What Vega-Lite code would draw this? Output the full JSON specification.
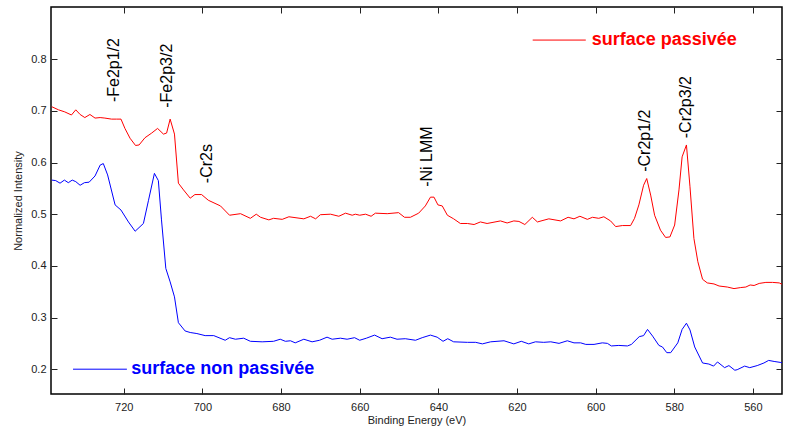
{
  "$schema": "https://vega.github.io/schema/vega-lite/v6.json",
  "width": 731,
  "height": 387,
  "autosize": {"type": "none"},
  "padding": {"left": 51, "top": 7, "right": 5, "bottom": 35},
  "background": "white",
  "config": {
    "font": "Liberation Sans",
    "view": {"stroke": "black", "strokeWidth": 1.5},
    "axis": {"grid": false, "domain": false, "labelFont": "Liberation Sans", "labelFontSize": 11, "labelColor": "#222", "tickColor": "#222", "tickWidth": 1, "titleFont": "Liberation Sans", "titleFontSize": 11, "titleFontWeight": "normal", "titleColor": "#222"}
  },
  "datasets": {
    "spectra": [
      {"s":"p","E":738.3,"I":0.708},{"s":"p","E":736.6,"I":0.702},{"s":"p","E":735.0,"I":0.698},{"s":"p","E":733.3,"I":0.692},{"s":"p","E":732.2,"I":0.702},{"s":"p","E":731.1,"I":0.693},{"s":"p","E":729.9,"I":0.687},{"s":"p","E":728.6,"I":0.693},{"s":"p","E":727.3,"I":0.686},{"s":"p","E":726.0,"I":0.687},{"s":"p","E":724.8,"I":0.686},{"s":"p","E":723.1,"I":0.684},{"s":"p","E":721.8,"I":0.684},{"s":"p","E":720.7,"I":0.684},{"s":"p","E":719.7,"I":0.666},{"s":"p","E":718.4,"I":0.647},{"s":"p","E":717.0,"I":0.633},{"s":"p","E":716.1,"I":0.634},{"s":"p","E":714.6,"I":0.648},{"s":"p","E":712.9,"I":0.657},{"s":"p","E":711.4,"I":0.666},{"s":"p","E":709.9,"I":0.655},{"s":"p","E":709.1,"I":0.657},{"s":"p","E":708.2,"I":0.684},{"s":"p","E":707.1,"I":0.655},{"s":"p","E":706.1,"I":0.560},{"s":"p","E":704.8,"I":0.547},{"s":"p","E":703.1,"I":0.531},{"s":"p","E":701.9,"I":0.538},{"s":"p","E":700.2,"I":0.538},{"s":"p","E":698.5,"I":0.527},{"s":"p","E":695.4,"I":0.516},{"s":"p","E":693.1,"I":0.498},{"s":"p","E":690.3,"I":0.501},{"s":"p","E":687.8,"I":0.492},{"s":"p","E":686.3,"I":0.500},{"s":"p","E":685.2,"I":0.494},{"s":"p","E":683.1,"I":0.489},{"s":"p","E":681.9,"I":0.492},{"s":"p","E":679.7,"I":0.490},{"s":"p","E":678.0,"I":0.495},{"s":"p","E":674.2,"I":0.491},{"s":"p","E":672.5,"I":0.496},{"s":"p","E":671.2,"I":0.491},{"s":"p","E":670.0,"I":0.499},{"s":"p","E":667.4,"I":0.500},{"s":"p","E":665.3,"I":0.496},{"s":"p","E":663.6,"I":0.502},{"s":"p","E":661.9,"I":0.498},{"s":"p","E":661.1,"I":0.500},{"s":"p","E":660.0,"I":0.498},{"s":"p","E":658.5,"I":0.500},{"s":"p","E":657.1,"I":0.496},{"s":"p","E":656.0,"I":0.502},{"s":"p","E":653.0,"I":0.501},{"s":"p","E":650.1,"I":0.503},{"s":"p","E":648.6,"I":0.494},{"s":"p","E":647.1,"I":0.494},{"s":"p","E":645.0,"I":0.502},{"s":"p","E":643.3,"I":0.516},{"s":"p","E":642.0,"I":0.533},{"s":"p","E":641.1,"I":0.533},{"s":"p","E":640.1,"I":0.518},{"s":"p","E":639.0,"I":0.516},{"s":"p","E":637.7,"I":0.498},{"s":"p","E":636.1,"I":0.491},{"s":"p","E":634.4,"I":0.482},{"s":"p","E":632.6,"I":0.482},{"s":"p","E":630.9,"I":0.480},{"s":"p","E":629.3,"I":0.485},{"s":"p","E":627.6,"I":0.482},{"s":"p","E":624.2,"I":0.487},{"s":"p","E":622.5,"I":0.483},{"s":"p","E":620.8,"I":0.487},{"s":"p","E":619.5,"I":0.486},{"s":"p","E":618.0,"I":0.480},{"s":"p","E":616.1,"I":0.494},{"s":"p","E":614.8,"I":0.485},{"s":"p","E":611.9,"I":0.491},{"s":"p","E":608.9,"I":0.487},{"s":"p","E":607.0,"I":0.494},{"s":"p","E":605.5,"I":0.491},{"s":"p","E":604.0,"I":0.496},{"s":"p","E":602.1,"I":0.490},{"s":"p","E":600.8,"I":0.494},{"s":"p","E":599.2,"I":0.492},{"s":"p","E":597.9,"I":0.495},{"s":"p","E":596.2,"I":0.487},{"s":"p","E":594.9,"I":0.476},{"s":"p","E":593.2,"I":0.478},{"s":"p","E":591.1,"I":0.478},{"s":"p","E":590.1,"I":0.492},{"s":"p","E":589.0,"I":0.518},{"s":"p","E":587.8,"I":0.556},{"s":"p","E":587.0,"I":0.569},{"s":"p","E":586.0,"I":0.537},{"s":"p","E":585.0,"I":0.498},{"s":"p","E":583.5,"I":0.469},{"s":"p","E":582.2,"I":0.455},{"s":"p","E":581.1,"I":0.456},{"s":"p","E":579.9,"I":0.479},{"s":"p","E":578.8,"I":0.547},{"s":"p","E":578.0,"I":0.611},{"s":"p","E":576.9,"I":0.634},{"s":"p","E":576.0,"I":0.553},{"s":"p","E":575.0,"I":0.453},{"s":"p","E":574.0,"I":0.408},{"s":"p","E":572.8,"I":0.374},{"s":"p","E":571.6,"I":0.367},{"s":"p","E":569.9,"I":0.365},{"s":"p","E":568.6,"I":0.361},{"s":"p","E":566.5,"I":0.359},{"s":"p","E":564.8,"I":0.356},{"s":"p","E":563.1,"I":0.358},{"s":"p","E":561.8,"I":0.359},{"s":"p","E":560.7,"I":0.363},{"s":"p","E":559.7,"I":0.362},{"s":"p","E":558.4,"I":0.366},{"s":"p","E":556.7,"I":0.368},{"s":"p","E":555.0,"I":0.368},{"s":"p","E":553.3,"I":0.367},{"s":"p","E":552.5,"I":0.364},
      {"s":"n","E":738.3,"I":0.566},{"s":"n","E":737.3,"I":0.565},{"s":"n","E":736.2,"I":0.560},{"s":"n","E":735.1,"I":0.566},{"s":"n","E":734.1,"I":0.561},{"s":"n","E":733.1,"I":0.566},{"s":"n","E":732.2,"I":0.563},{"s":"n","E":731.1,"I":0.556},{"s":"n","E":730.0,"I":0.561},{"s":"n","E":728.8,"I":0.562},{"s":"n","E":727.3,"I":0.574},{"s":"n","E":726.0,"I":0.595},{"s":"n","E":725.2,"I":0.598},{"s":"n","E":724.1,"I":0.576},{"s":"n","E":722.2,"I":0.518},{"s":"n","E":720.7,"I":0.508},{"s":"n","E":718.8,"I":0.485},{"s":"n","E":717.1,"I":0.467},{"s":"n","E":715.0,"I":0.482},{"s":"n","E":713.7,"I":0.527},{"s":"n","E":712.2,"I":0.579},{"s":"n","E":711.2,"I":0.565},{"s":"n","E":710.4,"I":0.489},{"s":"n","E":709.3,"I":0.395},{"s":"n","E":708.2,"I":0.369},{"s":"n","E":707.1,"I":0.340},{"s":"n","E":706.1,"I":0.290},{"s":"n","E":704.4,"I":0.274},{"s":"n","E":703.1,"I":0.271},{"s":"n","E":701.4,"I":0.269},{"s":"n","E":699.3,"I":0.265},{"s":"n","E":697.1,"I":0.265},{"s":"n","E":694.2,"I":0.256},{"s":"n","E":693.1,"I":0.261},{"s":"n","E":691.6,"I":0.258},{"s":"n","E":689.5,"I":0.260},{"s":"n","E":687.8,"I":0.254},{"s":"n","E":684.8,"I":0.253},{"s":"n","E":681.9,"I":0.254},{"s":"n","E":680.2,"I":0.258},{"s":"n","E":678.9,"I":0.254},{"s":"n","E":677.6,"I":0.255},{"s":"n","E":676.4,"I":0.251},{"s":"n","E":674.2,"I":0.258},{"s":"n","E":672.1,"I":0.253},{"s":"n","E":670.2,"I":0.256},{"s":"n","E":668.3,"I":0.262},{"s":"n","E":667.0,"I":0.258},{"s":"n","E":664.9,"I":0.260},{"s":"n","E":663.2,"I":0.258},{"s":"n","E":661.3,"I":0.261},{"s":"n","E":660.0,"I":0.256},{"s":"n","E":658.3,"I":0.260},{"s":"n","E":656.2,"I":0.266},{"s":"n","E":654.3,"I":0.259},{"s":"n","E":652.2,"I":0.262},{"s":"n","E":650.5,"I":0.258},{"s":"n","E":648.4,"I":0.259},{"s":"n","E":645.8,"I":0.256},{"s":"n","E":644.1,"I":0.261},{"s":"n","E":642.0,"I":0.266},{"s":"n","E":640.3,"I":0.262},{"s":"n","E":638.8,"I":0.254},{"s":"n","E":637.6,"I":0.259},{"s":"n","E":636.1,"I":0.253},{"s":"n","E":632.6,"I":0.252},{"s":"n","E":630.5,"I":0.252},{"s":"n","E":628.8,"I":0.249},{"s":"n","E":626.7,"I":0.253},{"s":"n","E":623.3,"I":0.255},{"s":"n","E":620.8,"I":0.249},{"s":"n","E":618.9,"I":0.254},{"s":"n","E":617.0,"I":0.249},{"s":"n","E":615.3,"I":0.253},{"s":"n","E":613.2,"I":0.252},{"s":"n","E":611.4,"I":0.253},{"s":"n","E":609.3,"I":0.250},{"s":"n","E":607.2,"I":0.255},{"s":"n","E":605.5,"I":0.251},{"s":"n","E":603.8,"I":0.251},{"s":"n","E":602.5,"I":0.248},{"s":"n","E":600.4,"I":0.248},{"s":"n","E":598.3,"I":0.251},{"s":"n","E":597.0,"I":0.250},{"s":"n","E":596.0,"I":0.245},{"s":"n","E":594.1,"I":0.246},{"s":"n","E":591.9,"I":0.245},{"s":"n","E":590.9,"I":0.248},{"s":"n","E":588.9,"I":0.263},{"s":"n","E":587.8,"I":0.265},{"s":"n","E":586.8,"I":0.277},{"s":"n","E":585.5,"I":0.264},{"s":"n","E":583.9,"I":0.246},{"s":"n","E":583.0,"I":0.243},{"s":"n","E":581.9,"I":0.232},{"s":"n","E":580.9,"I":0.232},{"s":"n","E":579.1,"I":0.251},{"s":"n","E":578.0,"I":0.277},{"s":"n","E":576.9,"I":0.289},{"s":"n","E":576.0,"I":0.276},{"s":"n","E":574.8,"I":0.243},{"s":"n","E":572.8,"I":0.212},{"s":"n","E":571.2,"I":0.210},{"s":"n","E":570.0,"I":0.206},{"s":"n","E":569.0,"I":0.214},{"s":"n","E":567.2,"I":0.203},{"s":"n","E":566.1,"I":0.207},{"s":"n","E":564.6,"I":0.198},{"s":"n","E":564.0,"I":0.199},{"s":"n","E":562.1,"I":0.206},{"s":"n","E":560.8,"I":0.203},{"s":"n","E":558.9,"I":0.207},{"s":"n","E":557.2,"I":0.212},{"s":"n","E":556.0,"I":0.217},{"s":"n","E":554.6,"I":0.215},{"s":"n","E":552.9,"I":0.213},{"s":"n","E":552.3,"I":0.212}
    ],
    "peaks": [
      {"t":"-Fe2p1/2","E":722.6,"I":0.717},
      {"t":"-Fe2p3/2","E":709.0,"I":0.706},
      {"t":"-Cr2s","E":698.8,"I":0.560},
      {"t":"-Ni LMM","E":642.8,"I":0.553},
      {"t":"-Cr2p1/2","E":587.5,"I":0.582},
      {"t":"-Cr2p3/2","E":576.9,"I":0.647}
    ],
    "legend": [
      {"s":"p","label":"surface passivée","x1":616.0,"x2":602.5,"tx":601.0,"y":0.837},
      {"s":"n","label":"surface non passivée","x1":732.9,"x2":719.2,"tx":718.1,"y":0.2}
    ]
  },
  "resolve": {"axis": {"x": "independent", "y": "independent"}},
  "layer": [
    {
      "data": {"name": "spectra"},
      "mark": {"type": "line", "strokeWidth": 1, "clip": true},
      "encoding": {
        "x": {"field": "E", "type": "quantitative", "scale": {"domain": [552.6, 738.5], "reverse": true, "nice": false, "zero": false},
              "axis": {"orient": "bottom", "values": [720,700,680,660,640,620,600,580,560], "tickSize": -6, "labelPadding": 13, "title": "Binding Energy (eV)", "titleY": 26, "titleBaseline": "middle"}},
        "y": {"field": "I", "type": "quantitative", "scale": {"domain": [0.152, 0.901], "nice": false, "zero": false},
              "axis": {"orient": "left", "values": [0.2,0.3,0.4,0.5,0.6,0.7,0.8], "format": ".1f", "tickSize": -6, "labelPadding": 11, "title": "Normalized Intensity", "titleX": -33, "titleBaseline": "middle", "titleAngle": 270}},
        "color": {"field": "s", "type": "nominal", "scale": {"domain": ["p","n"], "range": ["#ff0000","#0000ff"]}, "legend": null},
        "detail": {"field": "s"}
      }
    },
    {
      "data": {"name": "peaks"},
      "mark": {"type": "text", "angle": 270, "align": "left", "baseline": "middle", "fontSize": 16, "font": "Liberation Sans", "color": "#000"},
      "encoding": {
        "x": {"field": "E", "type": "quantitative", "axis": {"orient": "top", "values": [720,700,680,660,640,620,600,580,560], "labels": false, "tickSize": -6, "title": null}},
        "y": {"field": "I", "type": "quantitative", "axis": {"orient": "right", "values": [0.2,0.3,0.4,0.5,0.6,0.7,0.8], "labels": false, "tickSize": -6, "title": null}},
        "text": {"field": "t"}
      }
    },
    {
      "data": {"name": "legend"},
      "mark": {"type": "rule", "strokeWidth": 1},
      "encoding": {
        "x": {"field": "x1", "type": "quantitative", "axis": null},
        "x2": {"field": "x2"},
        "y": {"field": "y", "type": "quantitative", "axis": null},
        "color": {"field": "s", "type": "nominal", "legend": null}
      }
    },
    {
      "data": {"name": "legend"},
      "mark": {"type": "text", "align": "left", "baseline": "middle", "fontSize": 18, "fontWeight": "bold", "font": "Liberation Sans"},
      "encoding": {
        "x": {"field": "tx", "type": "quantitative", "axis": null},
        "y": {"field": "y", "type": "quantitative", "axis": null},
        "text": {"field": "label"},
        "color": {"field": "s", "type": "nominal", "legend": null}
      }
    }
  ]
}
